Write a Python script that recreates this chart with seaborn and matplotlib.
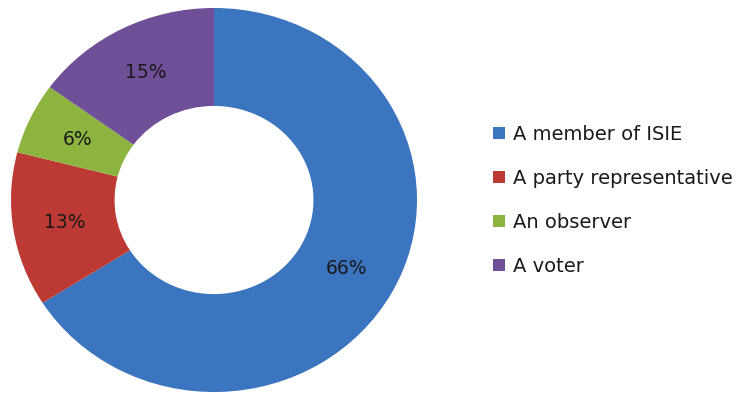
import matplotlib
matplotlib.use("Agg")
import matplotlib.pyplot as plt
from matplotlib.patches import Patch
import numpy as np
import seaborn as sns

categories = ["A member of ISIE", "A party representative", "An observer", "A voter"]
shares = [66, 13, 6, 15]
colors = ["#3b74bf", "#bd3a34", "#8db43f", "#6f4f98"]

sns.set_theme(style="white")
plt.rcParams["font.family"] = ["DejaVu Sans"]

W, H = 741, 393
fig = plt.figure(figsize=(W / 100, H / 100), dpi=100)
fig.patch.set_facecolor("white")

# donut area (slightly wider than tall)
cx, cy, rx, ry = 214, 200, 203, 192
ax = fig.add_axes([(cx - rx) / W, (H - cy - ry) / H, 2 * rx / W, 2 * ry / H])

hole = 0.49
wedges, _ = ax.pie(
    shares,
    colors=colors,
    startangle=90,
    counterclock=False,
    radius=1.0,
    wedgeprops=dict(width=1 - hole, edgecolor="none", linewidth=0),
)
ax.set_aspect("auto")
ax.set_xlim(-1, 1)
ax.set_ylim(-1, 1)
ax.axis("off")

mid_r = (1 + hole) / 2
for w, v in zip(wedges, shares):
    ang = np.deg2rad((w.theta1 + w.theta2) / 2)
    ax.text(mid_r * np.cos(ang), mid_r * np.sin(ang), f"{v}%",
            ha="center", va="center", fontsize=13.5, color="#1a1a1a")

handles = [Patch(facecolor=c, edgecolor="none") for c in colors]
fig.legend(
    handles, categories,
    loc="upper left",
    bbox_to_anchor=(493 / W, 1 - 125 / H),
    frameon=False,
    fontsize=14,
    labelspacing=1.28,
    handlelength=0.6,
    handleheight=0.6,
    handletextpad=0.42,
    borderaxespad=0,
    borderpad=0,
    labelcolor="#1a1a1a",
)

fig.savefig("out.png", dpi=100)
